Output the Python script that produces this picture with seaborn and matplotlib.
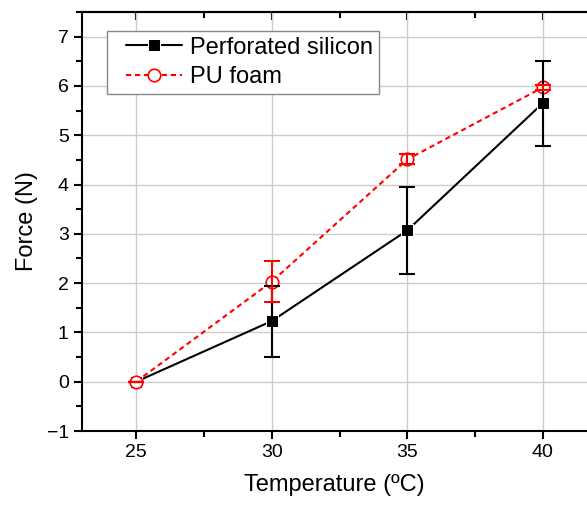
import matplotlib
matplotlib.use("Agg")
import matplotlib.pyplot as plt
import seaborn as sns
import numpy as np
from matplotlib.ticker import MultipleLocator
from matplotlib.lines import Line2D
from matplotlib.legend_handler import HandlerLine2D

# data
temperature = [25, 30, 35, 40]
silicon_force = [0.0, 1.23, 3.07, 5.65]
silicon_err = [0.0, 0.72, 0.88, 0.86]
foam_force = [0.0, 2.03, 4.51, 5.97]
foam_err = [0.0, 0.42, 0.10, 0.05]

sns.set_style("ticks")
plt.rcParams['font.family'] = ['Liberation Sans', 'DejaVu Sans']
plt.rcParams['text.color'] = 'black'
plt.rcParams['axes.labelcolor'] = 'black'
plt.rcParams['xtick.color'] = 'black'
plt.rcParams['ytick.color'] = 'black'

fig = plt.figure(figsize=(5.87, 5.05), dpi=100)
ax = fig.add_axes([82 / 587, 74 / 505, 505 / 587, 419 / 505])

sns.lineplot(x=temperature, y=silicon_force, color='black', marker='s',
             markersize=8.5, linewidth=1.5, label='Perforated silicon',
             ax=ax, zorder=3)
sns.lineplot(x=temperature, y=foam_force, color='red', marker='o',
             markersize=9, markerfacecolor='white', markeredgecolor='red',
             markeredgewidth=1.2, linewidth=1.5, linestyle=(0, (2.5, 1.8)),
             label='PU foam', ax=ax, zorder=4)

ax.errorbar(temperature, silicon_force, yerr=silicon_err, fmt='none',
            ecolor='black', elinewidth=1.5, capsize=6, capthick=1.5, zorder=5)
ax.errorbar(temperature, foam_force, yerr=foam_err, fmt='none',
            ecolor='red', elinewidth=1.5, capsize=6, capthick=1.5, zorder=6)

ax.set_xlim(23, 41.63)
ax.set_ylim(-1, 7.5)
ax.xaxis.set_major_locator(MultipleLocator(5))
ax.xaxis.set_minor_locator(MultipleLocator(2.5))
ax.yaxis.set_major_locator(MultipleLocator(1))
ax.yaxis.set_minor_locator(MultipleLocator(0.5))
ax.grid(True, which='major', color='#cccccc', linewidth=1)
ax.set_axisbelow(True)

ax.tick_params(which='major', direction='out', length=6, width=1.5,
               labelsize=14, colors='black')
ax.tick_params(which='minor', direction='out', length=4, width=1.5)
ax.set_yticks(np.arange(-1, 8, 1))
ax.set_yticklabels([f"{v}".replace('-', '\u2212') for v in range(-1, 8)])

# inward ticks on the top edge
top = ax.secondary_xaxis('top')
top.xaxis.set_major_locator(MultipleLocator(5))
top.xaxis.set_minor_locator(MultipleLocator(2.5))
top.tick_params(which='major', direction='in', length=6, width=1.5, labeltop=False)
top.tick_params(which='minor', direction='in', length=4, width=1.5)
top.spines['top'].set_linewidth(1.5)

for side in ['left', 'bottom', 'top']:
    ax.spines[side].set_linewidth(1.5)
    ax.spines[side].set_color('black')
ax.spines['right'].set_visible(False)

ax.set_xlabel('Temperature (ºC)', fontsize=17, labelpad=9)
ax.set_ylabel('Force (N)', fontsize=17, labelpad=6)

leg = ax.legend(loc='upper left', bbox_to_anchor=(0.05, 0.955), borderaxespad=0,
                fontsize=17, frameon=True, fancybox=False, edgecolor='#888888',
                framealpha=1, handlelength=2.9, borderpad=0.25, labelspacing=0.3,
                handletextpad=0.35,
                handler_map={Line2D: HandlerLine2D(xpad=0.55)})
leg.get_frame().set_linewidth(1)

fig.savefig('out.png', dpi=100)
